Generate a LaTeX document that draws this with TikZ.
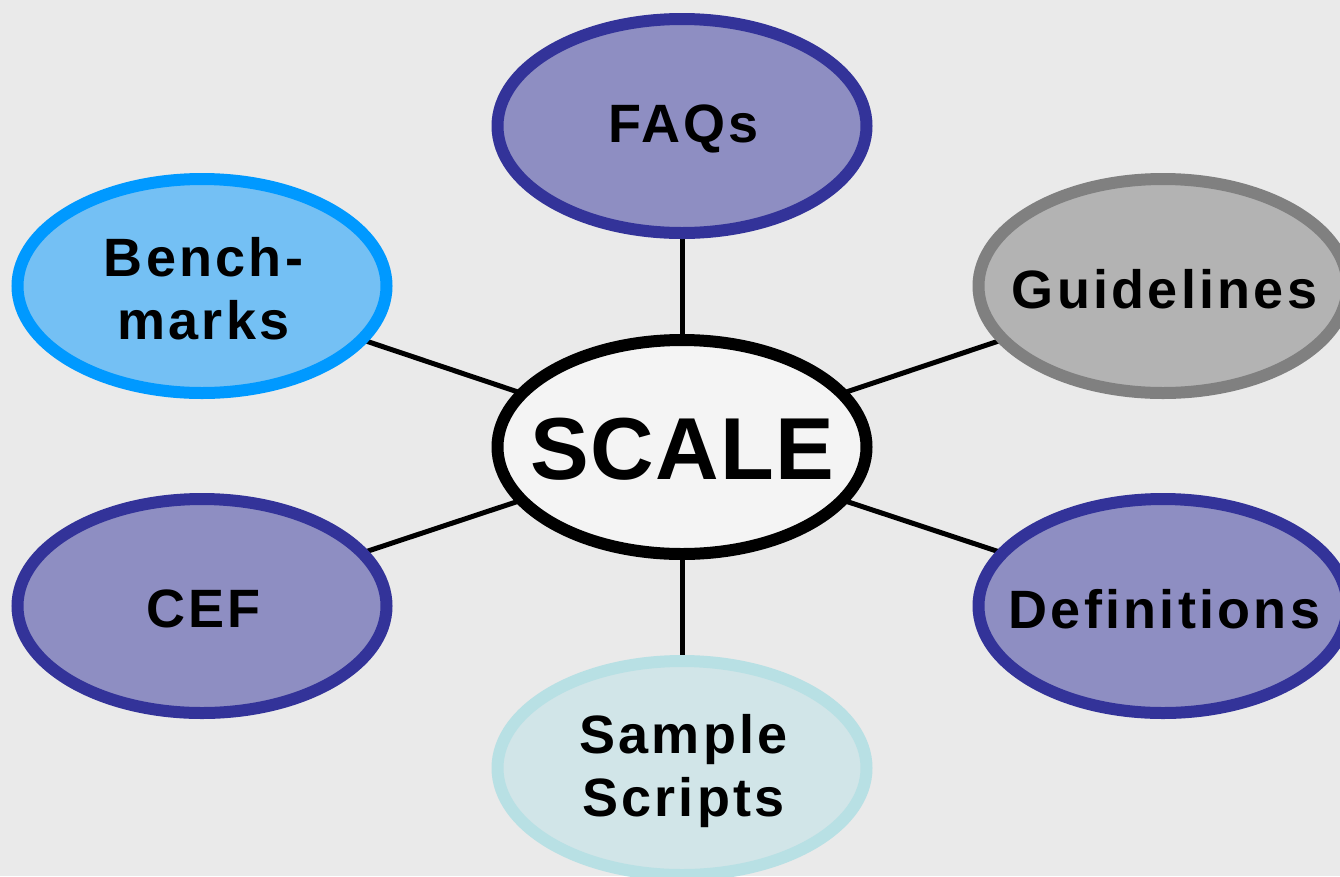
\documentclass[tikz,border=0pt]{standalone}
\usepackage{fontspec}
\setmainfont{Liberation Sans}
\newfontfamily\labfont{Liberation Sans}[LetterSpace=6]
\newfontfamily\bigfont{Liberation Sans}[LetterSpace=1.5]
\usetikzlibrary{shapes.geometric,backgrounds}
\definecolor{bgc}{HTML}{EAEAEA}
\definecolor{purfill}{HTML}{8E8EC2}
\definecolor{purline}{HTML}{333399}
\definecolor{bluefill}{HTML}{74C0F4}
\definecolor{blueline}{HTML}{0099FF}
\definecolor{grayfill}{HTML}{B3B3B3}
\definecolor{grayline}{HTML}{808080}
\definecolor{cyanfill}{HTML}{D1E5E8}
\definecolor{cyanline}{HTML}{B8E0E4}
\definecolor{hubfill}{HTML}{F4F4F4}
\begin{document}
\begin{tikzpicture}[x=1pt,y=-1pt,
  bubble/.style={ellipse, minimum width=369pt, minimum height=214pt, inner sep=0pt, line width=12pt},
  purple/.style={bubble, draw=purline, fill=purfill},
  lab/.style={inner sep=0pt, align=center, xshift=1.5pt, yshift=-3pt, font=\labfont\bfseries\fontsize{54}{63}\selectfont},
  biglab/.style={inner sep=0pt, align=center, xshift=0.5pt, yshift=-2pt, font=\bigfont\bfseries\fontsize{88}{100}\selectfont},
  link/.style={draw=black, line width=5pt}]
\useasboundingbox (0,0) rectangle (1340,876);
\clip (0,0) rectangle (1340,876);
\node[bubble, draw=black, fill=hubfill] (hub) at (682,447) {};
\node[purple] (faq) at (682,126) {};
\node[bubble, draw=blueline, fill=bluefill] (bench) at (202,286) {};
\node[bubble, draw=grayline, fill=grayfill] (guide) at (1163,286) {};
\node[purple] (cef) at (202,606) {};
\node[purple] (defs) at (1163,606) {};
\node[bubble, draw=cyanline, fill=cyanfill] (sample) at (682,768) {};
\node[biglab] (hubt) at (hub.center) {SCALE};
\node[lab] (faqt) at (faq.center) {FAQs};
\node[lab] (bencht) at (bench.center) {Bench-\\marks};
\node[lab] (guidet) at (guide.center) {Guidelines};
\node[lab] (ceft) at (cef.center) {CEF};
\node[lab] (defst) at (defs.center) {Definitions};
\node[lab] (samplet) at (sample.center) {Sample\\Scripts};
\begin{pgfonlayer}{background}
\fill[bgc] (0,0) rectangle (1340,876);
\path[link] (hub.center) -- (faq.center);
\path[link] (hub.center) -- (bench.center);
\path[link] (hub.center) -- (guide.center);
\path[link] (hub.center) -- (cef.center);
\path[link] (hub.center) -- (defs.center);
\path[link] (hub.center) -- (sample.center);
\end{pgfonlayer}
\end{tikzpicture}
\end{document}
